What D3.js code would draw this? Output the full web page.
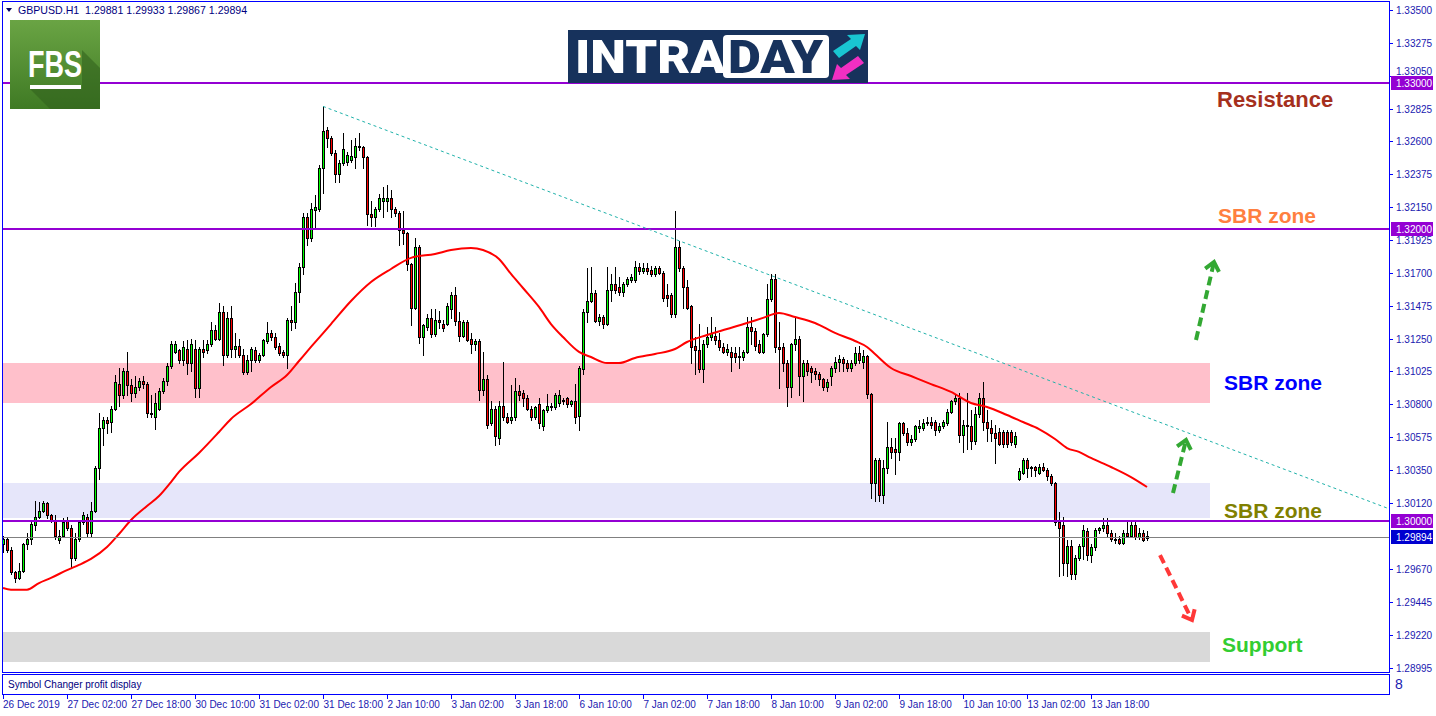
<!DOCTYPE html>
<html><head><meta charset="utf-8">
<script src="https://cdn.jsdelivr.net/npm/d3@7"></script>
<style>body{margin:0;background:#fff;}svg{display:block}</style>
</head><body><svg id="c" width="1436" height="716"></svg>
<script>
// ---------------- DATA ----------------
const symbolTitle = "GBPUSD.H1";
const headerValues = ["1.29881", "1.29933", "1.29867", "1.29894"];

const opens = [1.2984,1.2988,1.2980,1.2965,1.2961,1.2966,1.2984,1.2988,1.2997,1.3003,
1.3007,1.3012,1.3004,1.3001,1.2987,1.2990,1.3001,1.2995,1.2975,1.2988,
1.2999,1.3003,1.2992,1.3007,1.3036,1.3064,1.3069,1.3068,1.3077,1.3094,
1.3086,1.3103,1.3093,1.3088,1.3092,1.3096,1.3094,1.3074,1.3071,1.3077,
1.3089,1.3096,1.3106,1.3116,1.3117,1.3110,1.3118,1.3108,1.3118,1.3091,
1.3118,1.3117,1.3121,1.3131,1.3125,1.3143,1.3114,1.3139,1.3118,1.3120,
1.3114,1.3102,1.3110,1.3117,1.3110,1.3114,1.3123,1.3129,1.3126,1.3120,
1.3116,1.3114,1.3138,1.3136,1.3157,1.3174,1.3208,1.3194,1.3213,1.3214,
1.3242,1.3268,1.3262,1.3252,1.3238,1.3245,1.3246,1.3247,1.3249,1.3257,
1.3256,1.3249,1.3210,1.3208,1.3214,1.3219,1.3219,1.3221,1.3214,1.3211,
1.3199,1.3197,1.3176,1.3146,1.3188,1.3126,1.3133,1.3139,1.3128,1.3138,
1.3135,1.3135,1.3145,1.3155,1.3137,1.3127,1.3136,1.3125,1.3121,1.3123,
1.3090,1.3097,1.3067,1.3077,1.3057,1.3079,1.3071,1.3069,1.3071,1.3089,
1.3088,1.3084,1.3077,1.3071,1.3080,1.3065,1.3076,1.3078,1.3078,1.3081,
1.3082,1.3084,1.3080,1.3082,1.3072,1.3104,1.3143,1.3151,1.3156,1.3137,
1.3140,1.3135,1.3158,1.3162,1.3160,1.3157,1.3162,1.3165,1.3165,1.3174,
1.3171,1.3173,1.3172,1.3169,1.3173,1.3170,1.3155,1.3155,1.3142,1.3188,
1.3173,1.3160,1.3147,1.3120,1.3117,1.3104,1.3121,1.3126,1.3127,1.3124,
1.3119,1.3116,1.3116,1.3115,1.3113,1.3112,1.3116,1.3133,1.3130,1.3121,
1.3116,1.3128,1.3152,1.3166,1.3119,1.3119,1.3108,1.3092,1.3121,1.3125,
1.3099,1.3108,1.3105,1.3103,1.3101,1.3097,1.3092,1.3099,1.3105,1.3109,
1.3111,1.3108,1.3105,1.3108,1.3115,1.3109,1.3113,1.3087,1.3026,1.3042,
1.3018,1.3036,1.3051,1.3049,1.3047,1.3067,1.3060,1.3054,1.3056,1.3064,
1.3064,1.3067,1.3068,1.3068,1.3062,1.3065,1.3067,1.3075,1.3082,1.3084,
1.3059,1.3066,1.3065,1.3055,1.3073,1.3084,1.3068,1.3064,1.3060,1.3061,
1.3061,1.3061,1.3061,1.3053,1.3029,1.3033,1.3042,1.3036,1.3037,1.3033,
1.3037,1.3035,1.3031,1.3026,1.2999,1.2997,1.2971,1.2983,1.2964,1.2975,
1.2983,1.2993,1.2977,1.2982,1.2994,1.2995,1.2997,1.2992,1.2987,1.2988,
1.2985,1.2992,1.2990,1.2997,1.2989,1.2992,1.29881];

const highs = [1.2990,1.2989,1.2982,1.2966,1.2971,1.2985,1.2992,1.3000,1.3014,1.3013,
1.3014,1.3013,1.3005,1.3004,1.2994,1.3002,1.3003,1.2997,1.2992,1.3001,
1.3006,1.3005,1.3013,1.3038,1.3074,1.3071,1.3071,1.3079,1.3100,1.3105,
1.3105,1.3116,1.3097,1.3099,1.3098,1.3099,1.3095,1.3086,1.3088,1.3091,
1.3098,1.3108,1.3123,1.3123,1.3118,1.3123,1.3124,1.3125,1.3124,1.3119,
1.3124,1.3124,1.3136,1.3134,1.3149,1.3147,1.3143,1.3147,1.3129,1.3125,
1.3118,1.3114,1.3119,1.3119,1.3115,1.3125,1.3136,1.3131,1.3129,1.3122,
1.3117,1.3139,1.3147,1.3163,1.3177,1.3211,1.3211,1.3218,1.3223,1.3244,
1.3284,1.3270,1.3264,1.3254,1.3247,1.3266,1.3253,1.3261,1.3262,1.3266,
1.3257,1.3250,1.3219,1.3215,1.3224,1.3229,1.3230,1.3227,1.3215,1.3212,
1.3212,1.3198,1.3177,1.3194,1.3189,1.3135,1.3142,1.3145,1.3145,1.3144,
1.3138,1.3149,1.3157,1.3160,1.3143,1.3138,1.3138,1.3129,1.3125,1.3125,
1.3116,1.3100,1.3082,1.3079,1.3082,1.3109,1.3074,1.3093,1.3098,1.3093,
1.3090,1.3086,1.3079,1.3079,1.3084,1.3077,1.3087,1.3081,1.3088,1.3090,
1.3084,1.3085,1.3083,1.3094,1.3106,1.3145,1.3173,1.3174,1.3158,1.3142,
1.3141,1.3174,1.3169,1.3174,1.3167,1.3164,1.3167,1.3169,1.3178,1.3177,
1.3177,1.3177,1.3175,1.3175,1.3175,1.3171,1.3162,1.3156,1.3212,1.3192,
1.3175,1.3165,1.3148,1.3126,1.3135,1.3124,1.3133,1.3140,1.3133,1.3129,
1.3122,1.3121,1.3119,1.3119,1.3119,1.3117,1.3140,1.3140,1.3132,1.3124,
1.3129,1.3162,1.3169,1.3169,1.3136,1.3122,1.3110,1.3122,1.3139,1.3127,
1.3110,1.3110,1.3106,1.3105,1.3102,1.3098,1.3097,1.3106,1.3112,1.3114,
1.3112,1.3110,1.3110,1.3119,1.3120,1.3117,1.3114,1.3088,1.3043,1.3043,
1.3042,1.3068,1.3057,1.3057,1.3068,1.3068,1.3064,1.3059,1.3066,1.3069,
1.3070,1.3071,1.3071,1.3069,1.3067,1.3069,1.3077,1.3083,1.3086,1.3088,
1.3069,1.3088,1.3076,1.3078,1.3088,1.3095,1.3076,1.3069,1.3066,1.3064,
1.3062,1.3062,1.3062,1.3061,1.3036,1.3043,1.3043,1.3038,1.3038,1.3039,
1.3040,1.3036,1.3032,1.3027,1.3006,1.3003,1.2987,1.2987,1.2977,1.2984,
1.2997,1.2995,1.2984,1.2995,1.2996,1.3002,1.3002,1.2994,1.2992,1.2990,
1.2994,1.2999,1.3001,1.2999,1.2995,1.2994,1.29933];

const lows = [1.2979,1.2979,1.2964,1.2958,1.2960,1.2965,1.2981,1.2984,1.2994,1.3002,
1.3006,1.3002,1.2999,1.2988,1.2985,1.2989,1.2994,1.2968,1.2973,1.2986,
1.2998,1.2990,1.2990,1.3006,1.3029,1.3052,1.3060,1.3061,1.3076,1.3079,
1.3084,1.3086,1.3082,1.3085,1.3090,1.3091,1.3071,1.3071,1.3063,1.3076,
1.3088,1.3093,1.3105,1.3115,1.3108,1.3107,1.3101,1.3103,1.3085,1.3085,
1.3112,1.3115,1.3120,1.3124,1.3124,1.3107,1.3112,1.3112,1.3112,1.3112,
1.3101,1.3101,1.3103,1.3109,1.3109,1.3113,1.3122,1.3124,1.3118,1.3114,
1.3112,1.3105,1.3131,1.3132,1.3150,1.3169,1.3189,1.3192,1.3201,1.3212,
1.3225,1.3256,1.3251,1.3232,1.3232,1.3244,1.3244,1.3246,1.3242,1.3254,
1.3242,1.3203,1.3202,1.3202,1.3212,1.3208,1.3212,1.3208,1.3209,1.3189,
1.3190,1.3172,1.3134,1.3145,1.3122,1.3114,1.3131,1.3126,1.3127,1.3132,
1.3130,1.3134,1.3139,1.3134,1.3123,1.3126,1.3123,1.3115,1.3117,1.3083,
1.3086,1.3064,1.3066,1.3052,1.3053,1.3069,1.3067,1.3067,1.3069,1.3083,
1.3079,1.3076,1.3069,1.3070,1.3064,1.3062,1.3075,1.3076,1.3077,1.3079,
1.3080,1.3078,1.3079,1.3067,1.3062,1.3101,1.3136,1.3150,1.3136,1.3134,
1.3132,1.3134,1.3151,1.3156,1.3155,1.3154,1.3161,1.3164,1.3164,1.3169,
1.3170,1.3169,1.3168,1.3168,1.3169,1.3151,1.3147,1.3140,1.3140,1.3171,
1.3146,1.3145,1.3108,1.3101,1.3102,1.3095,1.3119,1.3124,1.3121,1.3117,
1.3115,1.3114,1.3103,1.3109,1.3105,1.3110,1.3115,1.3121,1.3117,1.3115,
1.3115,1.3127,1.3151,1.3116,1.3091,1.3103,1.3079,1.3085,1.3117,1.3086,
1.3082,1.3100,1.3095,1.3097,1.3093,1.3090,1.3089,1.3093,1.3102,1.3103,
1.3103,1.3103,1.3103,1.3107,1.3108,1.3105,1.3084,1.3016,1.3014,1.3014,
1.3012,1.3033,1.3043,1.3032,1.3042,1.3059,1.3052,1.3052,1.3055,1.3061,
1.3062,1.3066,1.3064,1.3059,1.3061,1.3064,1.3066,1.3074,1.3080,1.3054,
1.3047,1.3049,1.3049,1.3053,1.3071,1.3062,1.3055,1.3055,1.3040,1.3052,
1.3051,1.3051,1.3052,1.3051,1.3028,1.3032,1.3030,1.3031,1.3031,1.3032,
1.3034,1.3028,1.3025,1.2997,1.2962,1.2963,1.2962,1.2960,1.2960,1.2973,
1.2974,1.2973,1.2972,1.2980,1.2992,1.2993,1.2990,1.2986,1.2985,1.2984,
1.2984,1.2989,1.2989,1.2988,1.2988,1.2986,1.29867];

const closes = [1.2988,1.2980,1.2965,1.2961,1.2966,1.2984,1.2988,1.2998,1.3003,1.3007,
1.3012,1.3004,1.3001,1.2990,1.2990,1.2999,1.2995,1.2975,1.2988,1.2999,
1.3004,1.2992,1.3007,1.3036,1.3064,1.3069,1.3067,1.3077,1.3095,1.3086,
1.3103,1.3093,1.3088,1.3092,1.3096,1.3094,1.3074,1.3073,1.3081,1.3089,
1.3096,1.3106,1.3121,1.3121,1.3110,1.3119,1.3108,1.3121,1.3091,1.3118,
1.3116,1.3121,1.3131,1.3125,1.3143,1.3114,1.3139,1.3118,1.3120,1.3114,
1.3102,1.3110,1.3118,1.3110,1.3114,1.3124,1.3129,1.3126,1.3119,1.3115,
1.3114,1.3138,1.3136,1.3157,1.3174,1.3208,1.3194,1.3214,1.3215,1.3242,
1.3267,1.3262,1.3252,1.3238,1.3245,1.3255,1.3251,1.3250,1.3257,1.3256,
1.3249,1.3210,1.3208,1.3214,1.3221,1.3221,1.3221,1.3214,1.3211,1.3199,
1.3197,1.3176,1.3146,1.3188,1.3126,1.3134,1.3139,1.3128,1.3138,1.3136,
1.3132,1.3147,1.3155,1.3137,1.3127,1.3136,1.3124,1.3121,1.3123,1.3090,
1.3097,1.3066,1.3077,1.3058,1.3079,1.3071,1.3068,1.3071,1.3089,1.3086,
1.3084,1.3077,1.3071,1.3078,1.3067,1.3076,1.3079,1.3079,1.3086,1.3086,
1.3083,1.3080,1.3082,1.3071,1.3105,1.3143,1.3151,1.3156,1.3137,1.3140,
1.3135,1.3158,1.3162,1.3158,1.3157,1.3162,1.3166,1.3167,1.3174,1.3171,
1.3173,1.3171,1.3169,1.3173,1.3170,1.3153,1.3153,1.3142,1.3188,1.3173,
1.3160,1.3146,1.3119,1.3117,1.3104,1.3121,1.3126,1.3129,1.3124,1.3119,
1.3116,1.3118,1.3112,1.3112,1.3112,1.3116,1.3133,1.3130,1.3120,1.3116,
1.3128,1.3152,1.3166,1.3119,1.3118,1.3108,1.3092,1.3121,1.3125,1.3099,
1.3108,1.3103,1.3102,1.3101,1.3097,1.3092,1.3095,1.3105,1.3109,1.3111,
1.3108,1.3105,1.3108,1.3115,1.3110,1.3113,1.3087,1.3026,1.3042,1.3018,
1.3036,1.3051,1.3047,1.3047,1.3067,1.3060,1.3054,1.3056,1.3065,1.3065,
1.3067,1.3068,1.3066,1.3062,1.3065,1.3068,1.3075,1.3082,1.3084,1.3059,
1.3066,1.3065,1.3055,1.3073,1.3084,1.3068,1.3064,1.3060,1.3057,1.3053,
1.3053,1.3053,1.3054,1.3058,1.3034,1.3042,1.3036,1.3037,1.3035,1.3037,
1.3035,1.3031,1.3026,1.2999,1.2995,1.2971,1.2983,1.2964,1.2975,1.2983,
1.2994,1.2977,1.2982,1.2994,1.2995,1.2997,1.2992,1.2988,1.2988,1.2985,
1.2992,1.2990,1.2997,1.2989,1.2992,1.2987,1.29894];

// moving average (bar index, price)
const maBars = [0,2,6,9,12,16,19,22,26,29,32,36,39,42,44,49,54,57,62,67,71,74,77,82,87,92,97,102,108,112,117,120,124,127,130,134,137,140,144,147,151,154,158,163,168,171,176,181,186,190,194,198,203,208,213,216,218,222,227,232,237,242,246,251,255,259,263,266,269,272,277,282,286];
const maValues = [1.29541,1.2953,1.2953,1.29575,1.2961,1.29664,1.29699,1.2974,1.29822,1.29911,1.30007,1.30103,1.30171,1.30267,1.30336,1.30466,1.3061,1.30699,1.30801,1.30918,1.3100,1.31096,1.31192,1.31349,1.31507,1.31637,1.31726,1.31802,1.31829,1.31856,1.3187,1.31856,1.31795,1.31692,1.31596,1.31466,1.31349,1.3126,1.31158,1.31123,1.31082,1.31082,1.31117,1.31144,1.31178,1.31226,1.31274,1.31315,1.31356,1.31391,1.31425,1.31397,1.31356,1.31288,1.31233,1.31192,1.31144,1.31048,1.30993,1.30938,1.30884,1.30808,1.30781,1.30726,1.30678,1.3063,1.30562,1.305,1.30473,1.30432,1.3037,1.30301,1.30233];

const priceTickValues = [1.335,1.33275,1.3305,1.32825,1.326,1.32375,1.3215,1.31925,1.317,1.31475,1.3125,1.31025,1.308,1.30575,1.3035,1.3012,1.2967,1.29445,1.2922,1.28995];
const priceTickLabels = ["1.33500","1.33275","1.33050","1.32825","1.32600","1.32375","1.32150","1.31925","1.31700","1.31475","1.31250","1.31025","1.30800","1.30575","1.30350","1.30120","1.29670","1.29445","1.29220","1.28995"];

const timeTickBars = [0,16,32,48,64,80,96,112,128,144,160,176,192,208,224,240,256,272];
const timeTickLabels = ["26 Dec 2019","27 Dec 02:00","27 Dec 18:00","30 Dec 10:00","31 Dec 02:00","31 Dec 18:00","2 Jan 10:00","3 Jan 02:00","3 Jan 18:00","6 Jan 10:00","7 Jan 02:00","7 Jan 18:00","8 Jan 10:00","9 Jan 02:00","9 Jan 18:00","10 Jan 10:00","13 Jan 02:00","13 Jan 18:00"];

const levelPrices = [1.33, 1.32, 1.30];
const levelLabels = ["1.33000", "1.32000", "1.30000"];
const currentPrice = 1.29894;
const currentLabel = "1.29894";

const zoneTops = [1.31082, 1.30260, 1.29240];
const zoneBottoms = [1.30808, 1.30020, 1.29034];
const zoneColors = ["#ffc0cb", "#e6e6fa", "#d9d9d9"];
const zoneEndBar = 301.75;

const trendBars = [80, 346];
const trendPrices = [1.3284, 1.30089];

const noteTexts = ["Resistance", "SBR zone", "SBR zone", "SBR zone", "Support"];
const noteBars = [303.5, 303.75, 305.25, 305.25, 304.75];
const notePrices = [1.32884, 1.32089, 1.30945, 1.30069, 1.29151];
const noteColors = ["#a5301d", "#ff7f40", "#0000ff", "#808000", "#32cd32"];
const noteSizes = [22, 21, 21, 21, 21];

const arrowFromBars = [298.25, 292.5, 289.25];
const arrowFromPrices = [1.3124, 1.30192, 1.29767];
const arrowToBars = [302.75, 295.75, 297.25];
const arrowToPrices = [1.31774, 1.30555, 1.29322];
const arrowColors = ["#33a833", "#33a833", "#ff3838"];

// ---------------- LAYOUT ----------------
const BLUE = "#0000ff", TXT = "#1a1ab0";
const plotL = 3, plotR = 1389, plotT = 2, plotB = 672;
const x = d3.scaleLinear().domain([0, 346.5]).range([3, 1389]);
const y = d3.scaleLinear().domain([1.289658, 1.335548]).range([672, 2]);

const svg = d3.select("#c");
svg.append("rect").attr("width",1436).attr("height",716).attr("fill","#fff");
const defs = svg.append("defs");
defs.append("clipPath").attr("id","plot").append("rect")
  .attr("x",plotL).attr("y",plotT).attr("width",plotR-plotL).attr("height",plotB-plotT);

const plot = svg.append("g").attr("clip-path","url(#plot)");

// zones (background)
plot.append("g").selectAll("rect").data(zoneTops).join("rect")
  .attr("x", x(-3)).attr("y", d => Math.round(y(d)))
  .attr("width", x(zoneEndBar) - x(-3))
  .attr("height", (d,i) => Math.round(y(zoneBottoms[i])) - Math.round(y(d)))
  .attr("fill", (d,i) => zoneColors[i]);

// candles
const idx = d3.range(opens.length);
const cg = plot.append("g").attr("shape-rendering","crispEdges");
idx.forEach(i => {
  const cx = Math.round(x(i));
  const o = opens[i], c = closes[i];
  const yh = Math.round(y(highs[i])), yl = Math.round(y(lows[i]));
  cg.append("rect").attr("x", cx).attr("y", yh).attr("width",1).attr("height", Math.max(1, yl-yh+1)).attr("fill","#000");
  const yt = Math.round(y(Math.max(o,c))), yb = Math.round(y(Math.min(o,c)));
  const hgt = Math.max(1, yb - yt + 1);
  cg.append("rect").attr("x", cx-1).attr("y", yt).attr("width",3).attr("height", hgt).attr("fill","#000");
  if (hgt > 2) {
    cg.append("rect").attr("x", cx).attr("y", yt+1).attr("width",1).attr("height", hgt-2)
      .attr("fill", c >= o ? "#00ff00" : "#ff0000");
  }
});

// moving average
const maLine = d3.line().x((d,i) => x(maBars[i])).y(d => y(d)).curve(d3.curveMonotoneX);
plot.append("path").attr("d", maLine(maValues)).attr("fill","none")
  .attr("stroke","#ff0000").attr("stroke-width",2);

// horizontal levels
const lg = plot.append("g").attr("shape-rendering","crispEdges");
levelPrices.forEach(p => {
  lg.append("rect").attr("x",plotL).attr("y", Math.round(y(p))-1).attr("width",plotR-plotL).attr("height",2).attr("fill","#9400d3");
});
lg.append("rect").attr("x",plotL).attr("y", Math.round(y(currentPrice))+1).attr("width",plotR-plotL).attr("height",1).attr("fill","#808080");

// trend line
plot.append("line")
  .attr("x1", x(trendBars[0])).attr("y1", y(trendPrices[0]))
  .attr("x2", x(trendBars[1])).attr("y2", y(trendPrices[1]))
  .attr("stroke","#20b2aa").attr("stroke-width",1).attr("stroke-dasharray","3,3");

// ---------------- LOGOS ----------------
const lgrad = defs.append("linearGradient").attr("id","fbsg").attr("x1",0).attr("y1",0).attr("x2",0).attr("y2",1);
lgrad.append("stop").attr("offset","0%").attr("stop-color","#6aa444");
lgrad.append("stop").attr("offset","100%").attr("stop-color","#3f7a24");
const fbs = svg.append("g");
fbs.append("rect").attr("x",10).attr("y",20).attr("width",90).attr("height",89).attr("fill","url(#fbsg)");
fbs.append("path").attr("d","M30,89 L82,89 L82,50 L100,68 L100,109 L50,109 Z").attr("fill","#2f5e1c").attr("opacity",0.55);
fbs.append("text").attr("x",28).attr("y",77).attr("textLength",54).attr("lengthAdjust","spacingAndGlyphs")
  .attr("font-family","Liberation Sans Narrow, Liberation Sans, sans-serif").attr("font-weight","bold")
  .attr("font-size",37).attr("fill","#fff").text("FBS");
fbs.append("rect").attr("x",30).attr("y",85).attr("width",51).attr("height",4).attr("fill","#fff");

const intra = svg.append("g");
intra.append("rect").attr("x",568).attr("y",30).attr("width",300).attr("height",53).attr("fill","#17325c");
intra.append("text").attr("x",575).attr("y",73).attr("textLength",150).attr("lengthAdjust","spacingAndGlyphs")
  .attr("font-family","Roboto, Liberation Sans, sans-serif").attr("font-weight","900")
  .attr("font-size",46).attr("fill","#fff").text("INTRA");
intra.append("rect").attr("x",723).attr("y",35).attr("width",106).attr("height",43).attr("rx",4).attr("fill","#fff");
intra.append("text").attr("x",728).attr("y",73).attr("textLength",95).attr("lengthAdjust","spacingAndGlyphs")
  .attr("font-family","Roboto, Liberation Sans, sans-serif").attr("font-weight","900")
  .attr("font-size",46).attr("fill","#17325c").text("DAY");
intra.append("path").attr("d","M833,51 L851,39 L847,35 L865,34 L860,50 L856,46 L839,58 Z").attr("fill","#19c6d1");
intra.append("path").attr("d","M864,63 L846,75 L850,79 L832,80 L837,64 L841,68 L858,56 Z").attr("fill","#f02fc2");

// ---------------- NOTES & ARROWS ----------------
noteTexts.forEach((t,i) => {
  svg.append("text").attr("x", x(noteBars[i])).attr("y", y(notePrices[i]) + 7)
    .attr("font-family","Liberation Sans, Arial, sans-serif").attr("font-weight","bold")
    .attr("font-size",noteSizes[i]).attr("fill", noteColors[i]).text(t);
});
arrowFromBars.forEach((b,i) => {
  const x1 = x(b), y1 = y(arrowFromPrices[i]), x2 = x(arrowToBars[i]), y2 = y(arrowToPrices[i]);
  const ang = Math.atan2(y2-y1, x2-x1);
  svg.append("line").attr("x1",x1).attr("y1",y1).attr("x2",x2 - Math.cos(ang)*3).attr("y2",y2 - Math.sin(ang)*3)
    .attr("stroke",arrowColors[i]).attr("stroke-width",4).attr("stroke-dasharray","9,5");
  const L = 11, a = 0.7;
  const p1 = [x2 - L*Math.cos(ang - a), y2 - L*Math.sin(ang - a)];
  const p2 = [x2 - L*Math.cos(ang + a), y2 - L*Math.sin(ang + a)];
  svg.append("polyline").attr("points", `${p1} ${x2},${y2} ${p2}`).attr("fill","none")
    .attr("stroke",arrowColors[i]).attr("stroke-width",4).attr("stroke-linejoin","miter");
});

// ---------------- FRAMES & AXES ----------------
const fr = svg.append("g").attr("shape-rendering","crispEdges");
fr.append("rect").attr("x",2.5).attr("y",1.5).attr("width",plotR-2.5+0.5).attr("height",plotB-1.5+0.5).attr("fill","none").attr("stroke",BLUE);
fr.append("rect").attr("x",2.5).attr("y",674.5).attr("width",plotR-2.5+0.5).attr("height",20).attr("fill","none").attr("stroke",BLUE);

// header
svg.append("path").attr("d","M6,8 L12,8 L9,12 Z").attr("fill","#000060");
svg.append("text").attr("x",18).attr("y",14).attr("font-family","Liberation Sans, sans-serif").attr("font-size",10.6)
  .attr("fill","#000080").attr("xml:space","preserve").style("white-space","pre")
  .text(symbolTitle + "  " + headerValues.join(" "));
svg.append("text").attr("x",8).attr("y",688).attr("font-family","Liberation Sans, sans-serif").attr("font-size",10)
  .attr("fill","#000080").text("Symbol Changer profit display");
svg.append("text").attr("x",1395).attr("y",689).attr("font-family","Liberation Sans Narrow, Liberation Sans, sans-serif").attr("font-size",14)
  .attr("fill",TXT).text("8");

// price axis
const ya = svg.append("g");
priceTickValues.forEach((v,i) => {
  const yy = Math.round(y(v)) + 0.5;
  ya.append("line").attr("x1",plotR).attr("x2",plotR+4).attr("y1",yy).attr("y2",yy).attr("stroke",BLUE).attr("shape-rendering","crispEdges");
  // keep the label clear of the level box directly below it
  const nearBox = levelPrices.some(p => Math.abs(y(p) - yy) < 11 && y(p) > yy);
  ya.append("text").attr("x",1396).attr("y", nearBox ? Math.round(y(levelPrices.find(p => Math.abs(y(p) - yy) < 11))) - 8 : yy+3.5)
    .attr("font-family","Liberation Sans, sans-serif").attr("font-size",10)
    .attr("fill",TXT).text(priceTickLabels[i]);
});
levelPrices.forEach((p,i) => {
  const yy = Math.round(y(p));
  ya.append("rect").attr("x",1391).attr("y",yy-7).attr("width",42).attr("height",14).attr("fill","#9400d3");
  ya.append("text").attr("x",1396).attr("y",yy+4).attr("font-family","Liberation Sans, sans-serif").attr("font-size",10)
    .attr("fill","#fff").text(levelLabels[i]);
});
{
  const yy = Math.round(y(currentPrice));
  ya.append("rect").attr("x",1391).attr("y",yy-6).attr("width",42).attr("height",14).attr("fill","#0000d0");
  ya.append("text").attr("x",1396).attr("y",yy+5).attr("font-family","Liberation Sans, sans-serif").attr("font-size",10)
    .attr("fill","#fff").text(currentLabel);
}

// time axis
const xa = svg.append("g");
timeTickBars.forEach((b,i) => {
  const xx = Math.round(x(b)) + 0.5;
  xa.append("line").attr("x1",xx).attr("x2",xx).attr("y1",695).attr("y2",699).attr("stroke",BLUE).attr("shape-rendering","crispEdges");
  xa.append("text").attr("x", i === 0 ? 3 : xx).attr("y",708).attr("font-family","Liberation Sans, sans-serif").attr("font-size",10)
    .attr("fill",TXT).text(timeTickLabels[i]);
});
</script></body></html>
